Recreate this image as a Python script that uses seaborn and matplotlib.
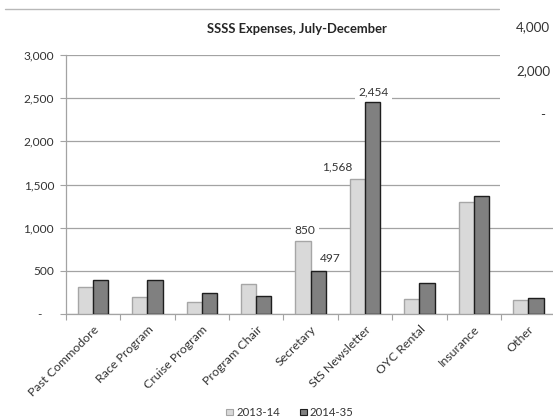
import numpy as np
import pandas as pd
import matplotlib
matplotlib.use("Agg")
import matplotlib.pyplot as plt
import seaborn as sns
from matplotlib.lines import Line2D
from matplotlib.patches import Rectangle
from matplotlib.ticker import FixedLocator, FixedFormatter

# ---- data ----
categories = ["Past Commodore", "Race Program", "Cruise Program", "Program Chair",
              "Secretary", "StS Newsletter", "OYC Rental", "Insurance", "Other"]
series_names = ["2013-14", "2014-35"]
values_2013_14 = [310, 194, 143, 345, 850, 1568, 174, 1299, 162]
values_2014_35 = [394, 394, 247, 205, 497, 2454, 356, 1365, 186]
ytick_values = [0, 500, 1000, 1500, 2000, 2500, 3000]
ytick_labels = ["-", "500", "1,000", "1,500", "2,000", "2,500", "3,000"]
title = "SSSS Expenses, July-December"
# labelled bars: (series index, category index)
labelled = [(0, 4), (1, 4), (0, 5), (1, 5)]
# stray axis labels of an overlapping chart at the right edge
overlay_labels = ["4,000", "2,000", "-"]

df = pd.DataFrame({
    "category": categories * 2,
    "value": values_2013_14 + values_2014_35,
    "period": [series_names[0]] * len(categories) + [series_names[1]] * len(categories),
})

# ---- style ----
sns.set_theme(style="white")
plt.rcParams["font.family"] = ["Lato", "DejaVu Sans"]
text_col = "#333333"
grid_col = "#a3a3a3"
light_fill, light_edge = "#d9d9d9", "#a6a6a6"
dark_fill, dark_edge = "#808080", "#1e1e1e"
fs = 8.6

W, H = 553, 420
fig = plt.figure(figsize=(W / 100, H / 100), dpi=100)
fig.patch.set_facecolor("white")
ax = fig.add_axes([65.7 / W, 1 - 314 / H, (555.5 - 65.7) / W, (314 - 55) / H])

sns.barplot(data=df, x="category", y="value", hue="period", order=categories,
            hue_order=series_names, palette=[light_fill, dark_fill],
            width=0.56, ax=ax, legend=True, errorbar=None, saturation=1, zorder=3)

for cont, ec in zip(ax.containers, [light_edge, dark_edge]):
    for bar in cont:
        bar.set_edgecolor(ec)
        bar.set_linewidth(1.0)
        bar.set_zorder(3)

ax.set_xlim(-0.5, len(categories) - 0.5)
ax.set_ylim(0, 3000)
ax.set_xlabel("")
ax.set_ylabel("")

# y axis
ax.yaxis.set_major_locator(FixedLocator(ytick_values))
ax.yaxis.set_major_formatter(FixedFormatter([l if l != "-" else "-    " for l in ytick_labels]))
ax.tick_params(axis="y", which="major", direction="out", length=4.3, width=0.8,
               color=grid_col, pad=4.0, labelsize=fs, labelcolor=text_col, left=True)
ax.yaxis.grid(True, color=grid_col, linewidth=0.9, zorder=0)
ax.set_axisbelow(True)

# x axis
ax.set_xticks(range(len(categories)))
ax.set_xticklabels(categories, rotation=45, ha="right", rotation_mode="anchor")
ax.tick_params(axis="x", which="major", length=0, pad=7, labelsize=fs + 0.3, labelcolor=text_col)
ax.set_xticks(np.arange(-0.5, len(categories), 1.0), minor=True)
ax.tick_params(axis="x", which="minor", direction="out", length=4, width=0.8,
               color=grid_col, bottom=True)

for s in ["top", "right"]:
    ax.spines[s].set_visible(False)
for s in ["left", "bottom"]:
    ax.spines[s].set_color(grid_col)
    ax.spines[s].set_linewidth(0.9)

# data labels
label_offsets = {(0, 4): (2, 10), (1, 4): (12, 13), (0, 5): (-20, 12), (1, 5): (1, 10)}
for si, ci in labelled:
    bar = ax.containers[si][ci]
    xc = bar.get_x() + bar.get_width() / 2
    yv = bar.get_height()
    dx, dy = label_offsets[(si, ci)]
    ax.annotate(f"{yv:,.0f}", (xc, yv), xytext=(dx, dy), textcoords="offset pixels",
                ha="center", va="center", fontsize=fs, color=text_col, zorder=5,
                bbox=dict(boxstyle="square,pad=0.3", fc="white", ec="none"))

# legend
handles = [Rectangle((0, 0), 1, 1, fc=light_fill, ec=light_edge, lw=0.8),
           Rectangle((0, 0), 1, 1, fc=dark_fill, ec=dark_edge, lw=0.8)]
ax.legend_.remove()
fig.legend(handles, series_names, loc="center", bbox_to_anchor=(290 / W, 1 - 412.5 / H),
           ncol=2, frameon=False, fontsize=8.2, handlelength=0.55, handleheight=0.55,
           handletextpad=0.3, columnspacing=1.8, labelcolor=text_col)

# title
fig.text(297 / W, 1 - 29 / H, title, ha="center", va="center", fontsize=9.4,
         fontweight="bold", color="#262626")

# top border line of chart area
fig.add_artist(Line2D([5 / W, 499 / W], [1 - 9.3 / H] * 2, color="#b8b8b8", lw=1.0))

# overlapping panel at top right
fig.add_artist(Rectangle((500 / W, 1 - 190 / H), (W - 500) / W, 190 / H,
                         transform=fig.transFigure, fc="white", ec="none", zorder=10))
for lab, yy, xr in zip(overlay_labels, [27, 71.5, 115], [550, 550, 545]):
    fig.text(xr / W, 1 - yy / H, lab, ha="right", va="center", fontsize=9.6,
             color=text_col, zorder=11)

fig.savefig("out.png", dpi=100, facecolor="white")
